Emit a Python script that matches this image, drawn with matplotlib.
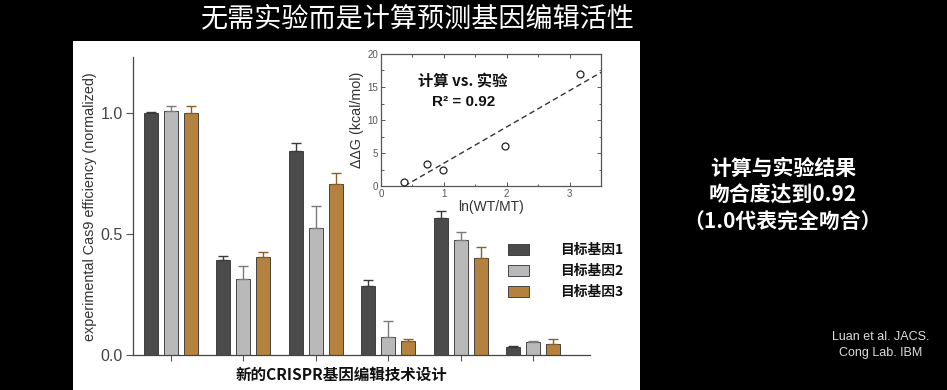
import numpy as np
import matplotlib
matplotlib.use("Agg")
import matplotlib.pyplot as plt
from matplotlib.patches import Rectangle
from matplotlib.ticker import MultipleLocator

# ---------------- data ----------------
groups = ["1", "2", "3", "4", "5", "6"]
series_names = ["目标基因1", "目标基因2", "目标基因3"]
gene1 = [1.00, 0.393, 0.844, 0.285, 0.567, 0.032]
gene1_err = [0.005, 0.017, 0.031, 0.025, 0.029, 0.004]
gene2 = [1.01, 0.314, 0.523, 0.073, 0.475, 0.054]
gene2_err = [0.020, 0.055, 0.094, 0.069, 0.032, 0.002]
gene3 = [1.00, 0.406, 0.705, 0.058, 0.402, 0.045]
gene3_err = [0.030, 0.021, 0.045, 0.009, 0.046, 0.020]
y_ticks = [0.0, 0.5, 1.0]

ln_ratio = [0.36, 0.73, 0.99, 1.97, 3.16]
ddG = [0.65, 3.33, 2.47, 6.0, 16.97]

CJK = ["Noto Sans CJK SC", "DejaVu Sans"]
LAT = ["Liberation Sans", "DejaVu Sans"]

fig = plt.figure(figsize=(9.47, 3.90), dpi=100, facecolor="black")
W, H = 947.0, 390.0

def fx(px):
    return px / W

def fy(py):
    return (H - py) / H

# white panel
fig.patches.append(Rectangle((fx(72.7), 0), fx(640) - fx(72.7), fy(41), transform=fig.transFigure,
                             facecolor="white", edgecolor="none", zorder=-5))

# title
fig.text(fx(418), fy(19), "无需实验而是计算预测基因编辑活性", color="white", fontsize=19.5,
         family=CJK, ha="center", va="center")

# ---------------- main bar chart ----------------
ax = fig.add_axes([fx(132.7), fy(355), fx(590) - fx(132.7), fy(57.3) - fy(355)])
ax.set_facecolor("none")
x = np.arange(len(groups))
bw = 0.193
off = 0.276
colors = ["#4b4b4b", "#b9b9b9", "#b5813f"]
ecolors = ["#3a3a3a", "#7a7a7a", "#8a5e2a"]
data = [(gene1, gene1_err), (gene2, gene2_err), (gene3, gene3_err)]
for i, (vals, errs) in enumerate(data):
    pos = x + (i - 1) * off
    ax.bar(pos, vals, width=bw, color=colors[i], edgecolor="#2e2e2e", linewidth=0.6,
           label=series_names[i], zorder=2)
    ax.errorbar(pos, vals, yerr=[np.zeros(len(vals)), errs], fmt="none", ecolor=ecolors[i],
                elinewidth=1.0, capsize=3.5, capthick=1.0, zorder=3)

ax.set_xlim(-0.529, 5.787)
ax.set_ylim(0, 1.23)
ax.set_xticks(x)
ax.set_xticklabels([""] * len(groups))
ax.set_yticks(y_ticks)
ax.set_yticklabels([f"{t:.1f}" for t in y_ticks], family=LAT, fontsize=11.5, color="#444444")
ax.tick_params(axis="x", length=4, width=0.8, color="#555555")
ax.tick_params(axis="y", length=5, width=0.8, color="#555555", pad=2)
for s in ["top", "right"]:
    ax.spines[s].set_visible(False)
for s in ["left", "bottom"]:
    ax.spines[s].set_color("#444444")
    ax.spines[s].set_linewidth(0.9)
ax.set_ylabel("experimental Cas9 efficiency (normalized)", family=LAT, fontsize=10.4,
              color="#333333")
ax.yaxis.set_label_coords((97 - 132.7) / (590 - 132.7), 0.5)

fig.text(fx(341), fy(375), "新的CRISPR基因编辑技术设计", family=CJK, fontsize=11.2,
         fontweight="bold", color="#111111", ha="center", va="center")

leg = ax.legend(loc="upper left", bbox_to_anchor=(fx(508), fy(243)), bbox_transform=fig.transFigure,
                frameon=False, prop={"family": CJK, "size": 9.9, "weight": "bold"},
                handlelength=1.55, handleheight=0.9, handletextpad=2.2, labelspacing=0.52,
                borderpad=0, borderaxespad=0)
for t in leg.get_texts():
    t.set_color("#111111")

# ---------------- inset scatter ----------------
axi = fig.add_axes([fx(381), fy(186), fx(601) - fx(381), fy(54) - fy(186)])
axi.set_facecolor("white")
axi.plot(ln_ratio, ddG, linestyle="none", marker="o", markersize=5, markerfacecolor="white",
         markeredgecolor="#222222", markeredgewidth=0.9, zorder=3)
k, b = np.polyfit(ln_ratio, ddG, 1)
x0 = -b / k
xl = np.array([x0, 3.5])
axi.plot(xl, k * xl + b, linestyle=(0, (4, 2.5)), color="#333333", linewidth=1.0)
axi.set_xlim(0, 3.5)
axi.set_ylim(0, 20)
axi.xaxis.set_major_locator(MultipleLocator(1))
axi.xaxis.set_minor_locator(MultipleLocator(0.5))
axi.yaxis.set_major_locator(MultipleLocator(5))
axi.yaxis.set_minor_locator(MultipleLocator(2.5))
axi.tick_params(which="both", direction="in", top=True, right=True, color="#555555", width=0.7)
axi.tick_params(which="major", length=3, labelsize=7, labelcolor="#555555", pad=2)
axi.tick_params(which="minor", length=1.8)
for lab in axi.get_xticklabels() + axi.get_yticklabels():
    lab.set_family(LAT)
for s in axi.spines.values():
    s.set_color("#555555")
    s.set_linewidth(0.9)
axi.set_xlabel("ln(WT/MT)", family=LAT, fontsize=10, color="#333333", labelpad=1)
axi.set_ylabel("ΔΔG (kcal/mol)", family=LAT, fontsize=10.3, color="#333333")
axi.yaxis.set_label_coords((364 - 381) / (601 - 381), 0.5)
axi.text(fx(463), fy(81), "计算 vs. 实验", transform=fig.transFigure, family=CJK, fontsize=11,
         fontweight="bold", color="#111111", ha="center", va="center")
axi.text(fx(464), fy(102), "R² = 0.92", transform=fig.transFigure, family=LAT, fontsize=11,
         fontweight="bold", color="#111111", ha="center", va="center")

# ---------------- right side text ----------------
fig.text(fx(783), fy(168), "计算与实验结果", family=CJK, fontsize=15, fontweight="bold",
         color="white", ha="center", va="center")
fig.text(fx(783), fy(195), "吻合度达到0.92", family=CJK, fontsize=15, fontweight="bold",
         color="white", ha="center", va="center")
fig.text(fx(782), fy(222), "（1.0代表完全吻合）", family=CJK, fontsize=15, fontweight="bold",
         color="white", ha="center", va="center")

fig.text(fx(881), fy(337), "Luan et al. JACS.", family=LAT, fontsize=9, color="#dddddd",
         ha="center", va="center")
fig.text(fx(881), fy(353), "Cong Lab. IBM", family=LAT, fontsize=9, color="#dddddd",
         ha="center", va="center")

fig.savefig("out.png", dpi=100, facecolor="black")
